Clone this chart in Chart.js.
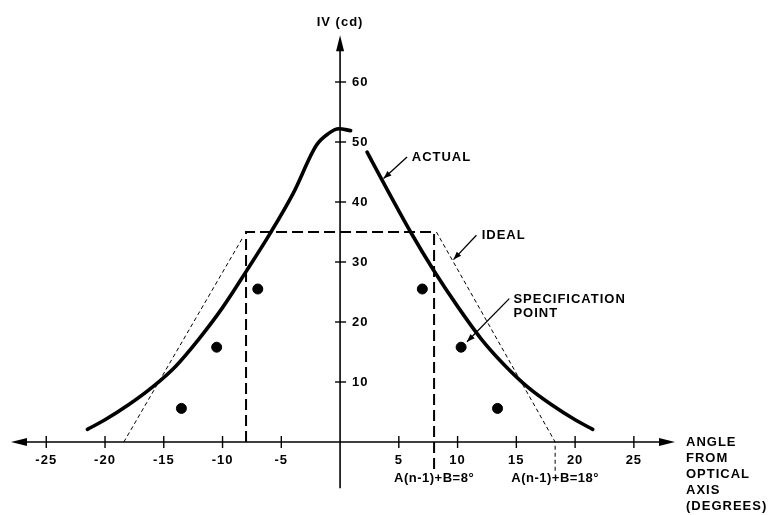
<!DOCTYPE html>
<html>
<head>
<meta charset="utf-8">
<script src="https://cdn.jsdelivr.net/npm/chart.js@4.4.0/dist/chart.umd.min.js"></script>
<style>
  html, body { margin: 0; padding: 0; background: #fff; }
  #wrap { width: 768px; height: 515px; }
</style>
</head>
<body>
<div id="wrap"><canvas id="chart" width="768" height="515"></canvas></div>
<script>
// actual luminous intensity curve (two pieces, gap under the "ACTUAL" leader)
const actualLeftX = [-21.5, -20, -18, -16, -14, -12, -10, -8, -6, -4, -2, -1, -0.1, 0.9];
const actualLeftY = [2.1, 3.7, 6.2, 9.1, 12.6, 17.2, 22.4, 28.4, 34.6, 41.4, 49.5, 51.4, 52.2, 51.9];
const actualRightX = [2.3, 4, 6, 8, 10, 12, 14, 16, 18, 20, 21.5];
const actualRightY = [48.3, 42.1, 35.0, 28.5, 22.6, 17.2, 12.8, 9.1, 6.2, 3.7, 2.1];

// ideal: box (bold dash) and sloped sides (thin dash)
const idealBoxX = [-8, -8, 8, 8];
const idealBoxY = [0, 35, 35, -5];
const idealLeftX = [-18.4, -8.3];
const idealLeftY = [0, 34];
const idealRightX = [8.2, 18.3, 18.3];
const idealRightY = [35, 0, -5];

// specification points
const specX = [-13.5, -10.5, -7, 7, 10.3, 13.4];
const specY = [5.6, 15.8, 25.5, 25.5, 15.8, 5.6];

const xTicks = [-25, -20, -15, -10, -5, 5, 10, 15, 20, 25];
const yTicks = [10, 20, 30, 40, 50, 60];

const FONT = "bold 13px 'Liberation Sans', Arial, sans-serif";

function pts(xs, ys) {
  return xs.map((x, i) => ({ x: x, y: ys[i] }));
}

function arrowHead(ctx, x1, y1, x2, y2, len, half) {
  const a = Math.atan2(y2 - y1, x2 - x1);
  ctx.beginPath();
  ctx.moveTo(x2, y2);
  ctx.lineTo(x2 - len * Math.cos(a) + half * Math.sin(a), y2 - len * Math.sin(a) - half * Math.cos(a));
  ctx.lineTo(x2 - len * Math.cos(a) - half * Math.sin(a), y2 - len * Math.sin(a) + half * Math.cos(a));
  ctx.closePath();
  ctx.fill();
}

function leader(ctx, xs, ys, x1, y1, x2, y2) {
  const ax = xs.getPixelForValue(x1), ay = ys.getPixelForValue(y1);
  const bx = xs.getPixelForValue(x2), by = ys.getPixelForValue(y2);
  ctx.beginPath();
  ctx.moveTo(ax, ay);
  ctx.lineTo(bx, by);
  ctx.lineWidth = 1.3;
  ctx.stroke();
  arrowHead(ctx, ax, ay, bx, by, 8, 3);
}

const axesPlugin = {
  id: "crossAxes",
  beforeDatasetsDraw(chart) {
    const ctx = chart.ctx;
    const xs = chart.scales.x, ys = chart.scales.y;
    const x0 = xs.getPixelForValue(0), y0 = ys.getPixelForValue(0);
    ctx.save();
    ctx.strokeStyle = "#000";
    ctx.fillStyle = "#000";
    ctx.lineWidth = 1.6;
    // x axis
    const xl = xs.getPixelForValue(-28), xr = xs.getPixelForValue(28.5);
    ctx.beginPath();
    ctx.moveTo(xl + 4, y0);
    ctx.lineTo(xr - 4, y0);
    ctx.stroke();
    arrowHead(ctx, xl + 16, y0, xl, y0, 16, 4);
    arrowHead(ctx, xr - 16, y0, xr, y0, 16, 4);
    // y axis
    const yb = ys.getPixelForValue(-7.7), yt = ys.getPixelForValue(67.8);
    ctx.beginPath();
    ctx.moveTo(x0, yb);
    ctx.lineTo(x0, yt + 4);
    ctx.stroke();
    arrowHead(ctx, x0, yt + 16, x0, yt, 16, 4);
    // ticks
    ctx.lineWidth = 1.4;
    ctx.font = FONT;
    ctx.letterSpacing = "1px";
    ctx.textBaseline = "middle";
    xTicks.forEach((v) => {
      const px = xs.getPixelForValue(v);
      ctx.beginPath();
      ctx.moveTo(px, y0 - 6);
      ctx.lineTo(px, y0 + 6);
      ctx.stroke();
      ctx.textAlign = "center";
      ctx.fillText(String(v), px, y0 + 18);
    });
    yTicks.forEach((v) => {
      const py = ys.getPixelForValue(v);
      ctx.beginPath();
      ctx.moveTo(x0 - 5, py);
      ctx.lineTo(x0 + 6, py);
      ctx.stroke();
      ctx.textAlign = "left";
      ctx.fillText(String(v), x0 + 12, py + 0.5);
    });
    // axis titles
    ctx.textAlign = "center";
    ctx.fillText("IV (cd)", x0, ys.getPixelForValue(70));
    ctx.textAlign = "left";
    const titleLines = ["ANGLE", "FROM", "OPTICAL", "AXIS", "(DEGREES)"];
    titleLines.forEach((t, i) => {
      ctx.fillText(t, xr + 11, y0 + i * 16);
    });
    ctx.restore();
  },
  afterDatasetsDraw(chart) {
    const ctx = chart.ctx;
    const xs = chart.scales.x, ys = chart.scales.y;
    ctx.save();
    ctx.strokeStyle = "#000";
    ctx.fillStyle = "#000";
    ctx.font = FONT;
    ctx.letterSpacing = "1px";
    ctx.textBaseline = "middle";
    ctx.textAlign = "left";
    ctx.fillText("ACTUAL", xs.getPixelForValue(6.1), ys.getPixelForValue(47.4));
    leader(ctx, xs, ys, 5.7, 47.5, 3.7, 43.9);
    ctx.fillText("IDEAL", xs.getPixelForValue(12.05), ys.getPixelForValue(34.45));
    leader(ctx, xs, ys, 11.6, 34.45, 9.65, 30.4);
    ctx.fillText("SPECIFICATION", xs.getPixelForValue(14.75), ys.getPixelForValue(23.8));
    ctx.fillText("POINT", xs.getPixelForValue(14.75), ys.getPixelForValue(21.4));
    leader(ctx, xs, ys, 14.4, 23.9, 10.8, 16.7);
    ctx.textAlign = "center";
    ctx.letterSpacing = "0.5px";
    ctx.fillText("A(n-1)+B=8\u00B0", xs.getPixelForValue(8), ys.getPixelForValue(-6.1));
    ctx.fillText("A(n-1)+B=18\u00B0", xs.getPixelForValue(18.3), ys.getPixelForValue(-6.1));
    ctx.restore();
  },
};

const lineBase = {
  showLine: true,
  pointRadius: 0,
  borderColor: "#000",
  backgroundColor: "#000",
  clip: false,
};

new Chart(document.getElementById("chart"), {
  type: "scatter",
  data: {
    datasets: [
      { ...lineBase, label: "Ideal box", data: pts(idealBoxX, idealBoxY), borderWidth: 2, borderDash: [11, 5] },
      { ...lineBase, label: "Ideal left", data: pts(idealLeftX, idealLeftY), borderWidth: 1, borderDash: [4, 3] },
      { ...lineBase, label: "Ideal right", data: pts(idealRightX, idealRightY), borderWidth: 1, borderDash: [4, 3] },
      { ...lineBase, label: "Actual", data: pts(actualLeftX, actualLeftY), borderWidth: 3.6, cubicInterpolationMode: "monotone", borderCapStyle: "round" },
      { ...lineBase, label: "Actual", data: pts(actualRightX, actualRightY), borderWidth: 3.6, cubicInterpolationMode: "monotone", borderCapStyle: "round" },
      {
        label: "Specification point",
        data: pts(specX, specY),
        showLine: false,
        pointRadius: 5,
        pointStyle: "circle",
        backgroundColor: "#000",
        borderColor: "#000",
        clip: false,
      },
    ],
  },
  options: {
    responsive: false,
    animation: false,
    events: [],
    layout: { padding: { left: 11, right: 93, top: 34, bottom: 25 } },
    plugins: { legend: { display: false }, tooltip: { enabled: false }, title: { display: false } },
    scales: {
      x: { type: "linear", min: -28, max: 28.5, display: false },
      y: { type: "linear", min: -8, max: 68, display: false },
    },
  },
  plugins: [axesPlugin],
});
</script>
</body>
</html>
